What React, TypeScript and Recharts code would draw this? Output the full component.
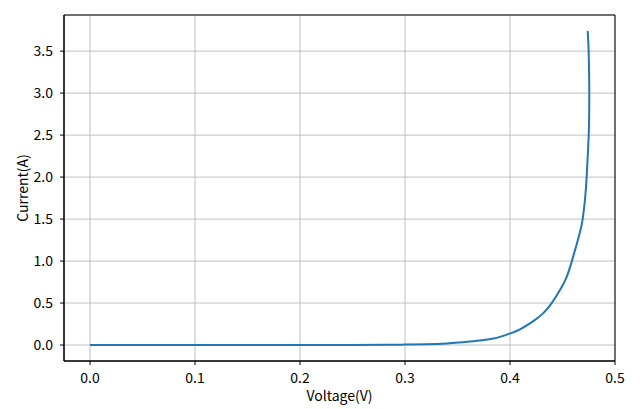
import { CartesianGrid, Line, LineChart, ReferenceArea, XAxis, YAxis } from 'recharts';

// diode I-V curve
const voltage = [
  0.0, 0.1, 0.15, 0.2, 0.25, 0.28, 0.3, 0.32, 0.34, 0.355, 0.365, 0.375, 0.383, 0.3905,
  0.4003, 0.4095, 0.4222, 0.4317, 0.4397, 0.4476, 0.454, 0.4587, 0.4619, 0.4645, 0.4673,
  0.4692, 0.4714, 0.473, 0.4743, 0.4752, 0.4755, 0.4753, 0.4749, 0.474,
];
const current = [
  0.0, 0.0001, 0.0002, 0.0005, 0.0012, 0.003, 0.005, 0.01, 0.019, 0.032, 0.045, 0.06, 0.076,
  0.097, 0.139, 0.187, 0.285, 0.38, 0.5, 0.655, 0.813, 0.99, 1.13, 1.245, 1.38, 1.5, 1.73, 2.0,
  2.32, 2.6, 3.0, 3.25, 3.5, 3.74,
];
const xTicks = [0, 0.1, 0.2, 0.3, 0.4, 0.5];
const yTicks = [0, 0.5, 1, 1.5, 2, 2.5, 3, 3.5];

const data = voltage.map((v, i) => ({ v, i: current[i] }));

const X_DOMAIN: [number, number] = [-0.0248, 0.5];
const Y_DOMAIN: [number, number] = [-0.19, 3.93];
const FONT = '"Noto Sans CJK SC", "Noto Sans", sans-serif';

const tickStyle = { fill: '#000', fontSize: 14, fontFamily: FONT };

const App = () => {
  return (
    <div style={{ position: 'absolute', left: 0, top: 0 }}>
      <LineChart width={640} height={409} data={data} margin={{ top: 15, right: 25, bottom: 0, left: 0 }}>
        <CartesianGrid stroke="#b0b0b0" strokeWidth={0.8} />
        <XAxis
          dataKey="v"
          type="number"
          domain={X_DOMAIN}
          ticks={xTicks}
          allowDataOverflow
          height={48}
          tickSize={4}
          tickMargin={8}
          tick={tickStyle}
          tickFormatter={(t) => t.toFixed(1)}
          axisLine={{ stroke: '#000' }}
          tickLine={{ stroke: '#000' }}
          label={{
            content: ({ viewBox }) => {
              const vb = viewBox as any;
              return (
                <text x={vb.x + vb.width / 2} y={vb.y + 40} textAnchor="middle" fill="#000" fontSize={14} fontFamily={FONT}>
                  Voltage(V)
                </text>
              );
            },
          }}
        />
        <YAxis
          dataKey="i"
          type="number"
          domain={Y_DOMAIN}
          ticks={yTicks}
          allowDataOverflow
          width={64}
          tickSize={4}
          tickMargin={7}
          tick={tickStyle}
          tickFormatter={(t) => t.toFixed(1)}
          axisLine={{ stroke: '#000' }}
          tickLine={{ stroke: '#000' }}
          label={{
            content: ({ viewBox }) => {
              const vb = viewBox as any;
              const cx = vb.x + 22;
              const cy = vb.y + vb.height / 2;
              return (
                <text
                  x={cx}
                  y={cy}
                  textAnchor="middle"
                  dominantBaseline="central"
                  transform={`rotate(-90 ${cx} ${cy})`}
                  fill="#000"
                  fontSize={14}
                  fontFamily={FONT}
                >
                  Current(A)
                </text>
              );
            },
          }}
        />
        <ReferenceArea x1={X_DOMAIN[0]} x2={X_DOMAIN[1]} y1={Y_DOMAIN[0]} y2={Y_DOMAIN[1]} fill="none" stroke="#000" strokeWidth={1} fillOpacity={0} />
        <Line type="natural" dataKey="i" stroke="#1f77b4" strokeWidth={2} dot={false} isAnimationActive={false} />
      </LineChart>
    </div>
  );
};

export default App;
